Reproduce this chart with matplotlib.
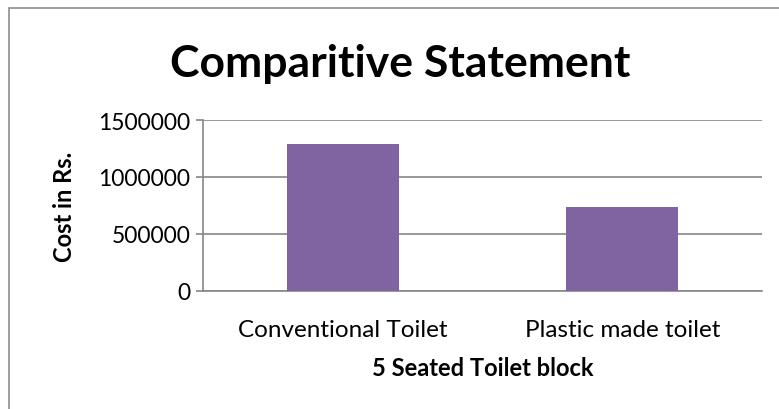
import matplotlib.pyplot as plt
from matplotlib.patches import Rectangle

categories = ["Conventional Toilet", "Plastic made toilet"]
costs = [1289000, 737000]
yticks = [0, 500000, 1000000, 1500000]

plt.rcParams['font.family'] = ['Lato', 'DejaVu Sans']

fig = plt.figure(figsize=(7.79, 4.10), dpi=100)
ax = fig.add_axes([203 / 779, 1 - 292 / 410, 559 / 779, 171 / 410])

# chart frame, running off the right and bottom edge as in the source
fig.patches.append(Rectangle((9 / 779, -0.1), 1.2, 1 - 9 / 410 + 0.1,
                             transform=fig.transFigure, fill=False,
                             edgecolor='#8c8c8c', linewidth=1.2))

x = range(len(categories))
ax.bar(x, costs, width=0.4, color='#8064a2', zorder=3)
ax.set_xlim(-0.5, 1.5)
ax.set_ylim(0, 1500000)
ax.set_yticks(yticks)
ax.set_yticklabels([str(v) for v in yticks], fontsize=16.5)
ax.set_xticks(list(x))
ax.set_xticklabels(categories, fontsize=17.5)
ax.tick_params(axis='x', length=0, pad=20)
ax.tick_params(axis='y', length=5, color='#868686', width=1.2, pad=4)

ax.grid(axis='y', color='#868686', linewidth=1.2, zorder=0)
for s in ['top', 'right']:
    ax.spines[s].set_visible(False)
for s in ['left', 'bottom']:
    ax.spines[s].set_color('#868686')
    ax.spines[s].set_linewidth(1.2)

ax.set_ylabel("Cost in Rs.", fontsize=17, fontweight='bold', labelpad=16)
ax.set_xlabel("5 Seated Toilet block", fontsize=17, fontweight='bold', labelpad=12)

fig.text(400 / 779, 1 - 64 / 410, "Comparitive Statement", fontsize=32,
         fontweight='bold', ha='center', va='center')

fig.savefig("out.png", dpi=100)
